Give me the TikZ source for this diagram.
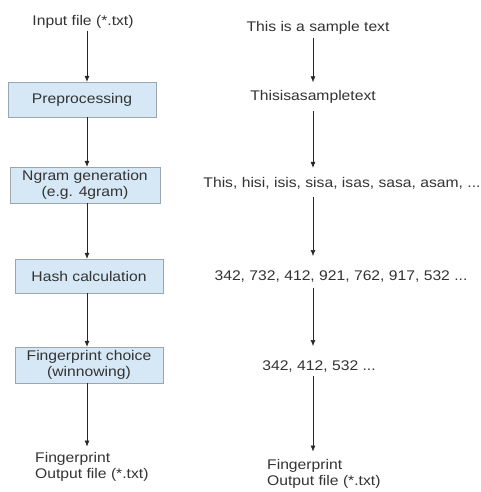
\documentclass[tikz,border=0pt]{standalone}
\usepackage{fontspec}
\setmainfont{Liberation Sans}[FakeStretch=1.12]
\usetikzlibrary{arrows.meta}
\definecolor{boxfill}{HTML}{D6E8F6}
\definecolor{boxdraw}{HTML}{9AA6B0}
\definecolor{txt}{HTML}{333333}
\tikzset{
  every node/.style={font=\fontsize{14}{15.5}\selectfont, text=txt},
  stepbox/.style={draw=boxdraw, fill=boxfill, minimum width=148pt, align=center, inner sep=2pt},
  plain/.style={align=center, inner sep=2pt},
  arr/.style={draw=black!85, line width=0.6pt, -{Latex[length=6pt,width=5pt]}}
}
\begin{document}
\begin{tikzpicture}[x=1pt,y=-1pt]
\useasboundingbox (0,0) rectangle (480,492);
% left column
\node[plain] (in) at (83,22) {Input file (*.txt)};
\node[stepbox, minimum height=35pt] (pre) at (82,99.5) {Preprocessing};
\node[stepbox, minimum height=36pt, minimum width=150pt] (ng) at (85,185) {Ngram generation\\(e.g. 4gram)};
\node[stepbox, minimum height=34pt] (hc) at (89,276) {Hash calculation};
\node[stepbox, minimum height=36pt] (fc) at (89,365) {Fingerprint choice\\(winnowing)};
\node[plain, align=left, anchor=west] (out) at (33,467) {Fingerprint\\Output file (*.txt)};
\coordinate (lx) at (87,0);
\draw[arr] (in.south -| lx) -- (pre.north -| lx);
\draw[arr] (pre.south -| lx) -- (ng.north -| lx);
\draw[arr] (ng.south -| lx) -- (hc.north -| lx);
\draw[arr] (hc.south -| lx) -- (fc.north -| lx);
\draw[arr, shorten >=4pt] (fc.south -| lx) -- (out.north -| lx);
% right column
\node[plain] (t1) at (318,28) {This is a sample text};
\node[plain] (t2) at (313,97) {Thisisasampletext};
\node[plain] (t3) at (342,183) {This, hisi, isis, sisa, isas, sasa, asam, ...};
\node[plain] (t4) at (341,277) {342, 732, 412, 921, 762, 917, 532 ...};
\node[plain] (t5) at (319,367) {342, 412, 532 ...};
\node[plain, align=left, anchor=west] (t6) at (265,474) {Fingerprint\\Output file (*.txt)};
\coordinate (rx) at (313,0);
\draw[arr, shorten <=1pt, shorten >=6pt] (t1.south -| rx) -- (t2.north -| rx);
\draw[arr, shorten <=5pt, shorten >=7pt] (t2.south -| rx) -- (t3.north -| rx);
\draw[arr, shorten <=6pt, shorten >=13pt] (t3.south -| rx) -- (t4.north -| rx);
\draw[arr, shorten <=3pt, shorten >=13pt] (t4.south -| rx) -- (t5.north -| rx);
\draw[arr, shorten <=1pt, shorten >=6pt] (t5.south -| rx) -- (t6.north -| rx);
\end{tikzpicture}
\end{document}
